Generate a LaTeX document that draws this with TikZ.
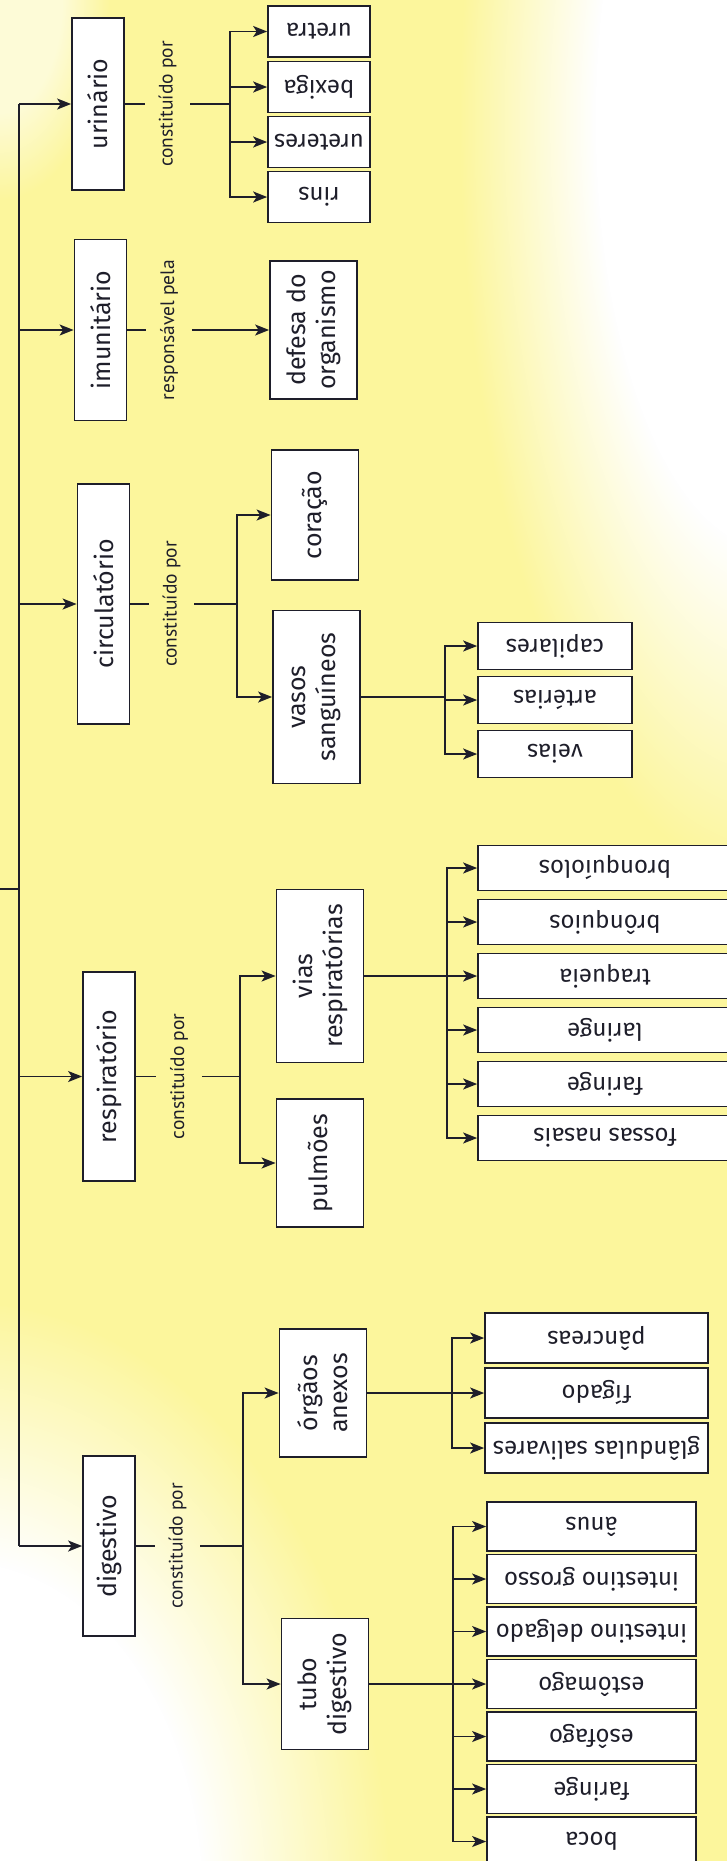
\documentclass[tikz,border=0pt]{standalone}
\usepackage{fontspec}
\setmainfont{Fira Sans}
\newfontfamily\linkfont{PT Sans}
\usetikzlibrary{arrows.meta}
\usetikzlibrary{fadings}

\definecolor{paper}{RGB}{252,246,156}
\definecolor{ink}{RGB}{30,30,42}

\pgfdeclareradialshading{glowshade}{\pgfpointorigin}{color(0bp)=(pgftransparent!0); color(14bp)=(pgftransparent!0); color(25bp)=(pgftransparent!100); color(50bp)=(pgftransparent!100)}
\pgfdeclarefading{glow}{\pgfuseshading{glowshade}}

\tikzset{
  sysbox/.style={draw, fill=white, rotate=90, minimum height=52pt, inner sep=0pt, line width=1.8pt, align=center, font=\fontsize{25}{30}\selectfont},
  partbox/.style={sysbox, minimum height=87pt},
  leafbox/.style={draw, fill=white, rotate=180, inner sep=0pt, line width=1.7pt, font=\fontsize{24}{26}\selectfont},
  linktext/.style={rotate=90, minimum height=44pt, inner sep=0pt, font=\linkfont\fontsize{19.5}{21}\selectfont},
}

\begin{document}
\begin{tikzpicture}[x=1pt, y=-1pt, color=ink, line width=1.6pt, >={Stealth[length=14pt, width=11pt, inset=3.5pt]}]
    \useasboundingbox (0,0) rectangle (727,1861);
    \clip (0,0) rectangle (727,1861);

    % paper
    \fill [paper] (0,0) rectangle (727,1861);
    \fill [white, path fading=glow] (770,120) ellipse (310pt and 760pt);
    \fill [white, path fading=glow] (-40,1900) ellipse (430pt and 600pt);
    \fill [white, path fading=glow, opacity=0.6] (0,0) ellipse (110pt and 200pt);

    % systems
    \node [sysbox, minimum width=172pt] (urinario) at (98,104) {urinário};
    \node [sysbox, minimum width=181pt] (imunitario) at (100.5,330) {imunitário};
    \node [sysbox, minimum width=240pt] (circulatorio) at (103.5,604) {circulatório};
    \node [sysbox, minimum width=209pt] (respiratorio) at (109,1076.5) {respiratório};
    \node [sysbox, minimum width=180pt] (digestivo) at (109,1546) {digestivo};

    \coordinate (root) at (0,889);
    \coordinate (trunk) at (19,889);
    \draw (root) -- (trunk);
    \draw (trunk |- urinario) -- (trunk |- digestivo);
    \draw [->] (trunk |- urinario) -- (urinario.north);
    \draw [->] (trunk |- imunitario) -- (imunitario.north);
    \draw [->] (trunk |- circulatorio) -- (circulatorio.north);
    \draw [->] (trunk |- respiratorio) -- (respiratorio.north);
    \draw [->] (trunk |- digestivo) -- (digestivo.north);

    % link words
    \node [linktext] (urinario-lbl) at (167.5,104) {constituído por};
    \node [linktext] (imunitario-lbl) at (169,330) {responsável pela};
    \node [linktext] (circulatorio-lbl) at (171.5,604) {constituído por};
    \node [linktext] (respiratorio-lbl) at (179,1076.5) {constituído por};
    \node [linktext] (digestivo-lbl) at (177.5,1546) {constituído por};

    \coordinate (urinario-split) at (230,104);
    \coordinate (circulatorio-split) at (237,604);
    \coordinate (respiratorio-split) at (240,1076.5);
    \coordinate (digestivo-split) at (243,1546);

    \draw (urinario.south) -- (urinario-lbl.north);
    \draw (imunitario.south) -- (imunitario-lbl.north);
    \draw (circulatorio.south) -- (circulatorio-lbl.north);
    \draw (respiratorio.south) -- (respiratorio-lbl.north);
    \draw (digestivo.south) -- (digestivo-lbl.north);

    \draw (urinario-lbl.south) -- (urinario-split);
    \draw (circulatorio-lbl.south) -- (circulatorio-split);
    \draw (respiratorio-lbl.south) -- (respiratorio-split);
    \draw (digestivo-lbl.south) -- (digestivo-split);

    % parts
    \node [partbox, minimum width=138pt] (defesa) at (313.5,330) {defesa do\\organismo};
    \node [partbox, minimum width=130pt] (coracao) at (315,515) {coração};
    \node [partbox, minimum width=173pt] (vasos) at (316.5,697) {vasos\\sanguíneos};
    \node [partbox, minimum width=173pt] (vias) at (320,976) {vias\\respiratórias};
    \node [partbox, minimum width=128pt] (pulmoes) at (320,1163) {pulmões};
    \node [partbox, minimum width=128pt] (orgaos) at (323,1393) {órgãos\\anexos};
    \node [partbox, minimum width=131pt] (tubo) at (325,1684) {tubo\\digestivo};

    \draw [->] (imunitario-lbl.south) -- (defesa.north);
    \draw [->] (circulatorio-split) |- (coracao.north);
    \draw [->] (circulatorio-split) |- (vasos.north);
    \draw [->] (respiratorio-split) |- (vias.north);
    \draw [->] (respiratorio-split) |- (pulmoes.north);
    \draw [->] (digestivo-split) |- (orgaos.north);
    \draw [->] (digestivo-split) |- (tubo.north);

    % urinario
    \node [leafbox, minimum width=102pt, minimum height=51pt] (uretra) at (319,31.5) {uretra};
    \node [leafbox, minimum width=102pt, minimum height=51pt] (bexiga) at (319,87) {bexiga};
    \node [leafbox, minimum width=102pt, minimum height=51pt] (ureteres) at (319,142) {ureteres};
    \node [leafbox, minimum width=102pt, minimum height=51pt] (rins) at (319,197) {rins};
    \draw [->] (urinario-split) |- (uretra.east);
    \draw [->] (urinario-split) |- (bexiga.east);
    \draw [->] (urinario-split) |- (ureteres.east);
    \draw [->] (urinario-split) |- (rins.east);

    % vasos
    \coordinate (vasos-split) at (445,697);
    \node [leafbox, minimum width=154pt, minimum height=47pt] (capilares) at (555,646) {capilares};
    \node [leafbox, minimum width=154pt, minimum height=47pt] (arterias) at (555,700) {artérias};
    \node [leafbox, minimum width=154pt, minimum height=47pt] (veias) at (555,754) {veias};
    \draw (vasos.south) -- (vasos-split);
    \draw [->] (vasos-split) |- (capilares.east);
    \draw [->] (vasos-split) |- (arterias.east);
    \draw [->] (vasos-split) |- (veias.east);

    % vias
    \coordinate (vias-split) at (447,976);
    \node [leafbox, minimum width=254pt, minimum height=45pt] (bronquiolos) at (605,868) {bronquíolos};
    \node [leafbox, minimum width=254pt, minimum height=45pt] (bronquios) at (605,922) {brônquios};
    \node [leafbox, minimum width=254pt, minimum height=45pt] (traqueia) at (605,976) {traqueia};
    \node [leafbox, minimum width=254pt, minimum height=45pt] (laringe) at (605,1030) {laringe};
    \node [leafbox, minimum width=254pt, minimum height=45pt] (faringe-r) at (605,1084) {faringe};
    \node [leafbox, minimum width=254pt, minimum height=45pt] (fossas) at (605,1138) {fossas nasais};
    \draw (vias.south) -- (vias-split);
    \draw [->] (vias-split) |- (bronquiolos.east);
    \draw [->] (vias-split) |- (bronquios.east);
    \draw [->] (vias-split) |- (traqueia.east);
    \draw [->] (vias-split) |- (laringe.east);
    \draw [->] (vias-split) |- (faringe-r.east);
    \draw [->] (vias-split) |- (fossas.east);

    % orgaos anexos
    \coordinate (orgaos-split) at (452,1393);
    \node [leafbox, minimum width=223pt, minimum height=50pt] (pancreas) at (596.5,1338) {pâncreas};
    \node [leafbox, minimum width=223pt, minimum height=50pt] (figado) at (596.5,1393) {fígado};
    \node [leafbox, minimum width=223pt, minimum height=50pt] (glandulas) at (596.5,1448) {glândulas salivares};
    \draw (orgaos.south) -- (orgaos-split);
    \draw [->] (orgaos-split) |- (pancreas.east);
    \draw [->] (orgaos-split) |- (figado.east);
    \draw [->] (orgaos-split) |- (glandulas.east);

    % tubo digestivo
    \coordinate (tubo-split) at (453,1684);
    \node [leafbox, minimum width=209pt, minimum height=49pt] (anus) at (591.5,1526.5) {ânus};
    \node [leafbox, minimum width=209pt, minimum height=49pt] (grosso) at (591.5,1579) {intestino grosso};
    \node [leafbox, minimum width=209pt, minimum height=49pt] (delgado) at (591.5,1631.5) {intestino delgado};
    \node [leafbox, minimum width=209pt, minimum height=49pt] (estomago) at (591.5,1684) {estômago};
    \node [leafbox, minimum width=209pt, minimum height=49pt] (esofago) at (591.5,1736.5) {esôfago};
    \node [leafbox, minimum width=209pt, minimum height=49pt] (faringe-d) at (591.5,1789) {faringe};
    \node [leafbox, minimum width=209pt, minimum height=49pt] (boca) at (591.5,1841.5) {boca};
    \draw (tubo.south) -- (tubo-split);
    \draw [->] (tubo-split) |- (anus.east);
    \draw [->] (tubo-split) |- (grosso.east);
    \draw [->] (tubo-split) |- (delgado.east);
    \draw [->] (tubo-split) |- (estomago.east);
    \draw [->] (tubo-split) |- (esofago.east);
    \draw [->] (tubo-split) |- (faringe-d.east);
    \draw [->] (tubo-split) |- (boca.east);
\end{tikzpicture}
\end{document}
